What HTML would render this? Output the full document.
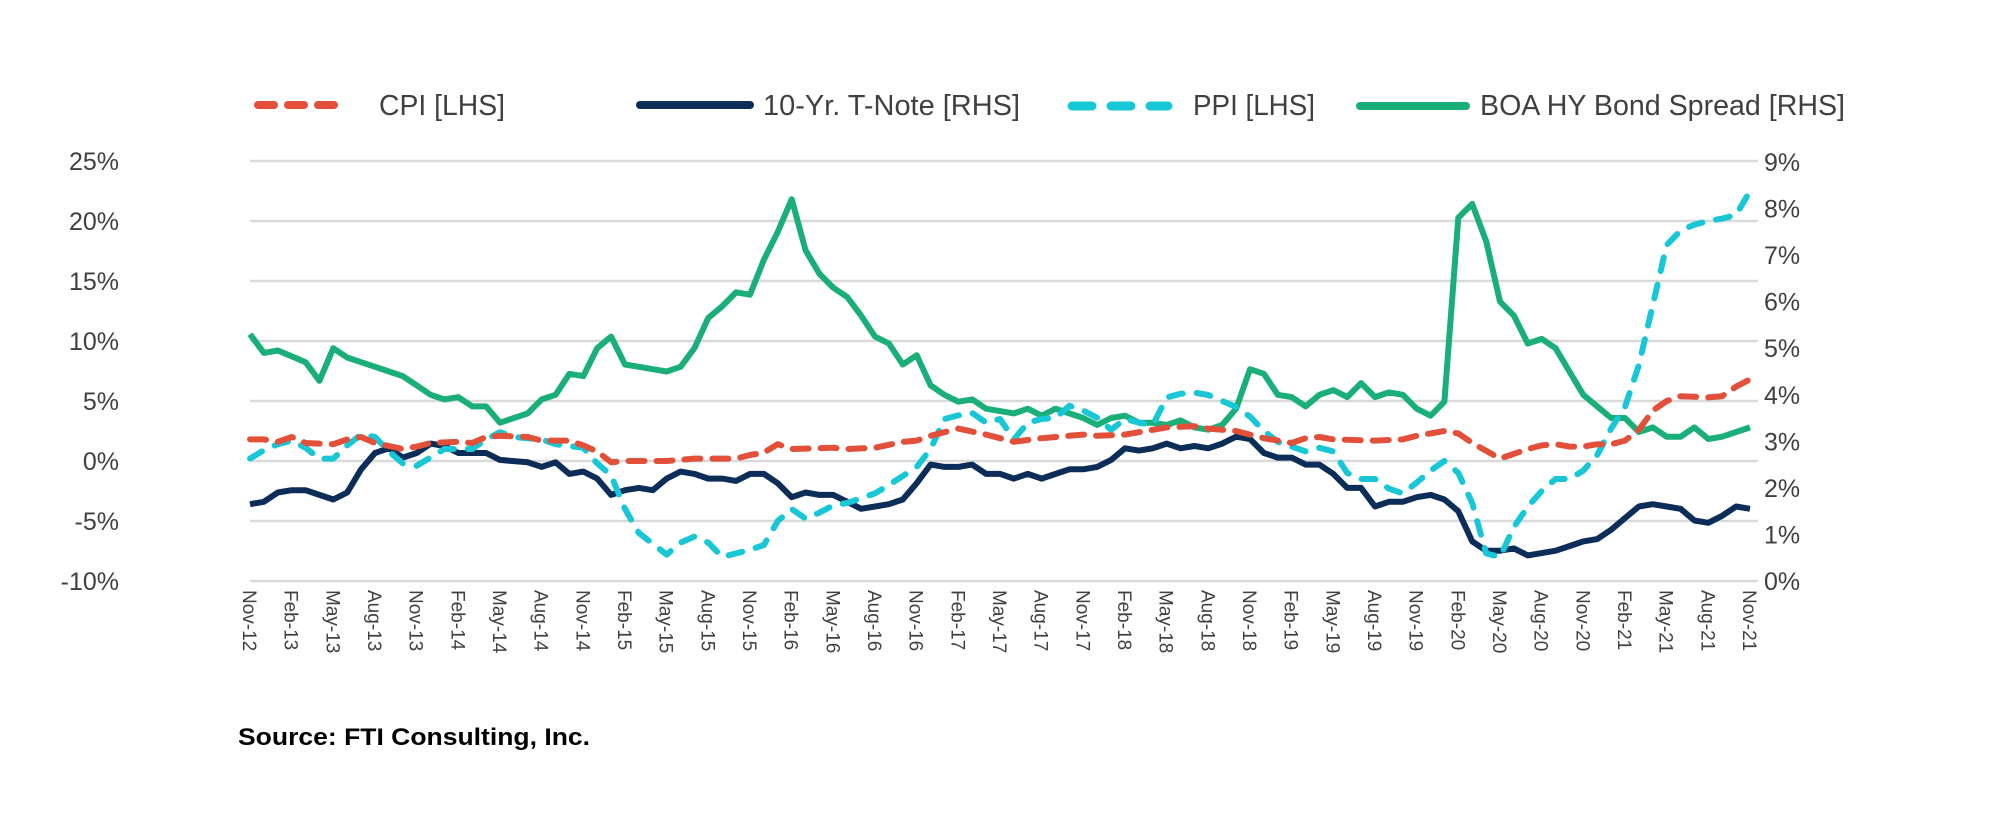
<!DOCTYPE html>
<html><head><meta charset="utf-8">
<style>
html,body{margin:0;padding:0;background:#fff;}
svg{display:block;}
text{font-family:"Liberation Sans",sans-serif;fill:#404040;}
</style></head>
<body>
<svg id="c" width="2000" height="817" viewBox="0 0 2000 817" xmlns="http://www.w3.org/2000/svg">
<g id="grid" stroke="#d9d9d9" stroke-width="2.5"></g>
<g id="lab"></g>
<g id="ser" fill="none" stroke-linejoin="round"></g>
<!-- legend -->
<line x1="258" y1="105" x2="338" y2="105" stroke="#e2503a" stroke-width="8" stroke-linecap="round" stroke-dasharray="16 14"/>
<text x="379" y="115" font-size="29" textLength="126" lengthAdjust="spacingAndGlyphs">CPI [LHS]</text>
<line x1="640" y1="105" x2="750" y2="105" stroke="#0b2d57" stroke-width="8" stroke-linecap="round"/>
<text x="763" y="115" font-size="29" textLength="257" lengthAdjust="spacingAndGlyphs">10-Yr. T-Note [RHS]</text>
<line x1="1072" y1="106" x2="1168" y2="106" stroke="#17c7d6" stroke-width="9" stroke-linecap="round" stroke-dasharray="20 19"/>
<text x="1193" y="115" font-size="29" textLength="122" lengthAdjust="spacingAndGlyphs">PPI [LHS]</text>
<line x1="1360" y1="106" x2="1466" y2="106" stroke="#1aaf78" stroke-width="8" stroke-linecap="round"/>
<text x="1480" y="115" font-size="29" textLength="365" lengthAdjust="spacingAndGlyphs">BOA HY Bond Spread [RHS]</text>
<text x="238" y="745" font-size="24" font-weight="bold" style="fill:#000" textLength="352" lengthAdjust="spacingAndGlyphs">Source: FTI Consulting, Inc.</text>
</svg>
<script>
var NS="http://www.w3.org/2000/svg";
function el(p,t,a,txt){var e=document.createElementNS(NS,t);for(var k in a)e.setAttribute(k,a[k]);if(txt!=null)e.textContent=txt;p.appendChild(e);return e;}
var X0=250,DX=1500/108;
function X(i){return X0+i*DX;}
function YL(v){return 461-v*12;}
function YR(r){return 581-r*46.56;}
var g=document.getElementById('grid'),lab=document.getElementById('lab'),ser=document.getElementById('ser');
for(var k=0;k<8;k++){var v=25-5*k,y=YL(v);
 el(g,'line',{x1:250,x2:1758,y1:y,y2:y});
 el(lab,'text',{x:119,y:y+9,'font-size':25,'text-anchor':'end'},v+'%');}
for(var r=0;r<=9;r++){el(lab,'text',{x:1764,y:YR(r)+9,'font-size':25},r+'%');}
var mons=['Nov','Feb','May','Aug'];
for(var i=0;i<=108;i+=3){var q=i/3,m=mons[q%4],yr=12+Math.floor((q+3)/4);
 var x=X(i);
 el(lab,'text',{x:0,y:0,'font-size':19,transform:'translate('+(x-7)+',590) rotate(90)'},m+'-'+yr);}
var MN={Jan:1,Feb:2,Mar:3,Apr:4,May:5,Jun:6,Jul:7,Aug:8,Sep:9,Oct:10,Nov:11,Dec:12};
function mi(s){var p=s.split(/(\d+)/);return (parseInt(p[1])-12)*12+MN[p[0]]-11;}
function build(pts){var arr=[];var keys=pts.map(function(p){return [mi(p[0]),p[1]];});
 for(var i=0;i<=108;i++){for(var j=0;j<keys.length-1;j++){if(i>=keys[j][0]&&i<=keys[j+1][0]){var a=keys[j],b=keys[j+1];var t=b[0]==a[0]?0:(i-a[0])/(b[0]-a[0]);arr.push(a[1]+(b[1]-a[1])*t);break;}}}
 return arr;}
function draw(data,yf,col,dash){var d='';data.forEach(function(v,i){d+=(i?'L':'M')+X(i).toFixed(1)+','+yf(v).toFixed(1);});
 var a={d:d,stroke:col,'stroke-width':6};if(dash){a['stroke-dasharray']=dash;a['stroke-linecap']='round';}el(ser,'path',a);}
var hy=build([['Nov12',5.3],['Dec12',4.9],['Jan13',4.95],['Mar13',4.7],['Apr13',4.3],['May13',5.0],['Jun13',4.8],['Aug13',4.6],['Oct13',4.4],['Dec13',4.0],['Jan14',3.9],['Feb14',3.95],['Mar14',3.75],['Apr14',3.75],['May14',3.4],['Jul14',3.6],['Aug14',3.9],['Sep14',4.0],['Oct14',4.45],['Nov14',4.4],['Dec14',5.0],['Jan15',5.25],['Feb15',4.65],['Apr15',4.55],['May15',4.5],['Jun15',4.6],['Jul15',5.0],['Aug15',5.65],['Sep15',5.9],['Oct15',6.2],['Nov15',6.15],['Dec15',6.9],['Jan16',7.5],['Feb16',8.2],['Mar16',7.1],['Apr16',6.6],['May16',6.3],['Jun16',6.1],['Jul16',5.7],['Aug16',5.25],['Sep16',5.1],['Oct16',4.65],['Nov16',4.85],['Dec16',4.2],['Jan17',4.0],['Feb17',3.85],['Mar17',3.9],['Apr17',3.7],['May17',3.65],['Jun17',3.6],['Jul17',3.7],['Aug17',3.55],['Sep17',3.7],['Oct17',3.6],['Nov17',3.5],['Dec17',3.35],['Jan18',3.5],['Feb18',3.55],['Mar18',3.4],['Apr18',3.4],['May18',3.35],['Jun18',3.45],['Jul18',3.3],['Aug18',3.25],['Sep18',3.35],['Oct18',3.7],['Nov18',4.55],['Dec18',4.45],['Jan19',4.0],['Feb19',3.95],['Mar19',3.75],['Apr19',4.0],['May19',4.1],['Jun19',3.95],['Jul19',4.25],['Aug19',3.95],['Sep19',4.05],['Oct19',4.0],['Nov19',3.7],['Dec19',3.55],['Jan20',3.85],['Feb20',7.8],['Mar20',8.1],['Apr20',7.3],['May20',6.0],['Jun20',5.7],['Jul20',5.1],['Aug20',5.2],['Sep20',5.0],['Oct20',4.5],['Nov20',4.0],['Dec20',3.75],['Jan21',3.5],['Feb21',3.5],['Mar21',3.2],['Apr21',3.3],['May21',3.1],['Jun21',3.1],['Jul21',3.3],['Aug21',3.05],['Sep21',3.1],['Oct21',3.2],['Nov21',3.3]]);
var tn=build([['Nov12',1.65],['Dec12',1.7],['Jan13',1.9],['Feb13',1.95],['Mar13',1.95],['Apr13',1.85],['May13',1.75],['Jun13',1.9],['Jul13',2.4],['Aug13',2.75],['Sep13',2.85],['Oct13',2.65],['Nov13',2.75],['Dec13',2.95],['Jan14',2.9],['Feb14',2.75],['Apr14',2.75],['May14',2.6],['Jul14',2.55],['Aug14',2.45],['Sep14',2.55],['Oct14',2.3],['Nov14',2.35],['Dec14',2.2],['Jan15',1.85],['Feb15',1.95],['Mar15',2.0],['Apr15',1.95],['May15',2.2],['Jun15',2.35],['Jul15',2.3],['Aug15',2.2],['Sep15',2.2],['Oct15',2.15],['Nov15',2.3],['Dec15',2.3],['Jan16',2.1],['Feb16',1.8],['Mar16',1.9],['Apr16',1.85],['May16',1.85],['Jun16',1.7],['Jul16',1.55],['Aug16',1.6],['Sep16',1.65],['Oct16',1.75],['Nov16',2.1],['Dec16',2.5],['Jan17',2.45],['Feb17',2.45],['Mar17',2.5],['Apr17',2.3],['May17',2.3],['Jun17',2.2],['Jul17',2.3],['Aug17',2.2],['Sep17',2.3],['Oct17',2.4],['Nov17',2.4],['Dec17',2.45],['Jan18',2.6],['Feb18',2.85],['Mar18',2.8],['Apr18',2.85],['May18',2.95],['Jun18',2.85],['Jul18',2.9],['Aug18',2.85],['Sep18',2.95],['Oct18',3.1],['Nov18',3.05],['Dec18',2.75],['Jan19',2.65],['Feb19',2.65],['Mar19',2.5],['Apr19',2.5],['May19',2.3],['Jun19',2.0],['Jul19',2.0],['Aug19',1.6],['Sep19',1.7],['Oct19',1.7],['Nov19',1.8],['Dec19',1.85],['Jan20',1.75],['Feb20',1.5],['Mar20',0.85],['Apr20',0.65],['May20',0.65],['Jun20',0.7],['Jul20',0.55],['Aug20',0.6],['Sep20',0.65],['Oct20',0.75],['Nov20',0.85],['Dec20',0.9],['Jan21',1.1],['Feb21',1.35],['Mar21',1.6],['Apr21',1.65],['May21',1.6],['Jun21',1.55],['Jul21',1.3],['Aug21',1.25],['Sep21',1.4],['Oct21',1.6],['Nov21',1.55]]);
var cpi=build([['Nov12',1.8],['Dec12',1.8],['Jan13',1.6],['Feb13',2.0],['Mar13',1.5],['May13',1.4],['Jun13',1.8],['Jul13',2.0],['Aug13',1.5],['Oct13',1.0],['Nov13',1.2],['Dec13',1.5],['Feb14',1.6],['Mar14',1.5],['Apr14',2.0],['May14',2.1],['Jul14',2.0],['Aug14',1.7],['Oct14',1.7],['Nov14',1.3],['Dec14',0.8],['Jan15',-0.1],['Feb15',0.0],['May15',0.0],['Jul15',0.2],['Aug15',0.2],['Oct15',0.2],['Nov15',0.5],['Dec15',0.7],['Jan16',1.4],['Feb16',1.0],['May16',1.1],['Jun16',1.0],['Aug16',1.1],['Oct16',1.6],['Nov16',1.7],['Dec16',2.1],['Feb17',2.7],['Apr17',2.2],['May17',1.9],['Jun17',1.6],['Aug17',1.9],['Nov17',2.2],['Dec17',2.1],['Feb18',2.2],['May18',2.8],['Jul18',2.9],['Aug18',2.7],['Oct18',2.5],['Nov18',2.2],['Dec18',1.9],['Feb19',1.5],['Mar19',1.9],['Apr19',2.0],['May19',1.8],['Aug19',1.7],['Oct19',1.8],['Nov19',2.1],['Dec19',2.3],['Jan20',2.5],['Feb20',2.3],['Mar20',1.5],['May20',0.2],['Jun20',0.6],['Jul20',1.0],['Aug20',1.3],['Sep20',1.4],['Oct20',1.2],['Nov20',1.2],['Dec20',1.4],['Jan21',1.4],['Feb21',1.7],['Mar21',2.6],['Apr21',4.2],['May21',5.0],['Jun21',5.4],['Aug21',5.3],['Sep21',5.4],['Oct21',6.2],['Nov21',6.8]]);
var ppi=build([['Nov12',0.2],['Dec12',0.9],['Jan13',1.4],['Feb13',1.7],['Mar13',1.1],['Apr13',0.2],['May13',0.2],['Jun13',1.3],['Jul13',2.2],['Aug13',2.0],['Sep13',0.8],['Oct13',-0.2],['Nov13',-0.4],['Dec13',0.3],['Jan14',1.0],['Feb14',1.0],['Mar14',1.0],['Apr14',1.8],['May14',2.4],['Jun14',2.0],['Aug14',1.8],['Sep14',1.4],['Nov14',1.1],['Dec14',-0.2],['Jan15',-1.2],['Feb15',-4.0],['Mar15',-6.0],['May15',-7.8],['Jun15',-6.8],['Jul15',-6.3],['Aug15',-6.8],['Sep15',-8.0],['Nov15',-7.4],['Dec15',-7.0],['Jan16',-5.0],['Feb16',-4.0],['Mar16',-4.8],['Apr16',-4.3],['May16',-3.7],['Jun16',-3.5],['Aug16',-2.7],['Sep16',-2.0],['Nov16',-0.5],['Dec16',1.0],['Jan17',3.5],['Feb17',3.8],['Mar17',4.0],['Apr17',3.2],['May17',3.5],['Jun17',1.8],['Jul17',3.2],['Aug17',3.5],['Sep17',3.6],['Oct17',4.6],['Nov17',4.2],['Dec17',3.6],['Jan18',2.6],['Feb18',3.5],['Mar18',3.2],['Apr18',3.0],['May18',5.3],['Jun18',5.6],['Jul18',5.7],['Aug18',5.5],['Sep18',5.0],['Oct18',4.5],['Nov18',3.7],['Dec18',2.5],['Jan19',1.6],['Feb19',1.2],['Mar19',0.8],['Apr19',1.1],['May19',0.8],['Jun19',-1.0],['Jul19',-1.5],['Aug19',-1.5],['Sep19',-2.3],['Oct19',-2.7],['Nov19',-1.8],['Dec19',-0.8],['Jan20',0.0],['Feb20',-1.0],['Mar20',-3.5],['Apr20',-7.7],['May20',-8.0],['Jun20',-5.5],['Jul20',-3.8],['Aug20',-2.5],['Sep20',-1.5],['Oct20',-1.5],['Nov20',-0.8],['Dec20',0.5],['Jan21',2.7],['Feb21',4.5],['Mar21',8.0],['Apr21',13.0],['May21',18.0],['Jun21',19.2],['Jul21',19.7],['Aug21',20.0],['Sep21',20.2],['Oct21',20.5],['Nov21',22.5]]);
draw(hy,YR,'#1aaf78');
draw(tn,YR,'#0b2d57');
draw(ppi,YL,'#17c7d6','14 14');
draw(cpi,YL,'#e2503a','16 12');
</script>
</body></html>
